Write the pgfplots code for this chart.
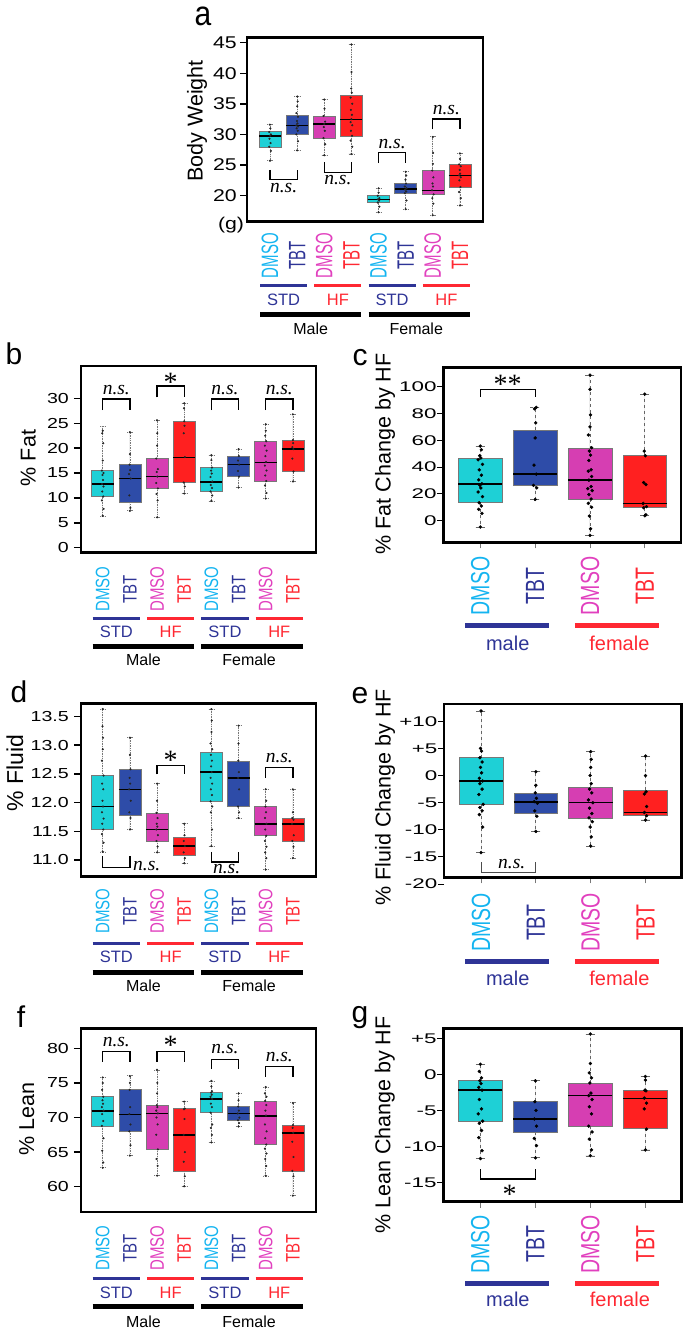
\documentclass[border=0pt]{standalone}
\usepackage{graphicx}
\usepackage{pgfplots}
\pgfplotsset{compat=1.18}
\usepgfplotslibrary{statistics}
\usepackage{fontspec}
\setmainfont{Liberation Sans}
\newfontfamily\nsfont{Liberation Serif}

\definecolor{cyanB}{RGB}{30,208,214}
\definecolor{blueB}{RGB}{46,76,168}
\definecolor{magB}{RGB}{214,62,178}
\definecolor{redB}{RGB}{255,32,32}
\definecolor{cyanT}{RGB}{20,180,240}
\definecolor{blueT}{RGB}{46,52,150}
\definecolor{magT}{RGB}{225,64,190}
\definecolor{redT}{RGB}{255,40,50}
\definecolor{boxgray}{RGB}{120,120,120}

\newcommand{\tlA}[1]{\scalebox{1.25}[1]{#1}}
\newcommand{\tlL}[1]{\scalebox{1.35}[1]{#1}}
\newcommand{\tlR}[1]{\scalebox{1.6}[1]{#1}}
\newcommand{\cA}[2]{\textcolor{#1}{\scalebox{1}[1.58]{#2}}}
\newcommand{\cL}[2]{\textcolor{#1}{\scalebox{1}[1.3]{#2}}}
\newcommand{\cR}[2]{\textcolor{#1}{\scalebox{1}[1.35]{#2}}}

\newcommand{\bp}[7]{\addplot[fill=#7, draw=boxgray, line width=0.6pt,
  boxplot prepared={draw position=#1, lower whisker=#2, lower quartile=#3,
  median=#4, upper quartile=#5, upper whisker=#6}] coordinates {};}
\newcommand{\br}[4]{\draw[line width=1.3pt] (axis cs:#1,#3) -- (axis cs:#1,#4) -- (axis cs:#2,#4) -- (axis cs:#2,#3);}

\tikzset{
  ns/.style={font=\nsfont\itshape\fontsize{19.5}{19.5}\selectfont},
  star/.style={font=\nsfont\fontsize{28}{28}\selectfont, yshift=-4pt},
}

\pgfplotsset{
  common/.style={scale only axis, clip=false, axis line style={line width=2.5pt},
    tick align=outside, tick pos=left,
    boxplot/draw direction=y,
    boxplot/every median/.style={black, line width=1.6pt},
    ylabel style={font=\fontsize{21.5}{21.5}\selectfont, anchor=center},
  },
  leftp/.style={common, width=235pt, xmin=0.2, xmax=8.85, major tick length=7pt,
    xtick={1,...,8}, xtick style={draw=none}, ytick style={black, line width=1.4pt},
    yticklabel style={font=\fontsize{14.5}{14.5}\selectfont, inner xsep=5pt},
    xticklabels={\cL{cyanT}{DMSO},\cL{blueT}{TBT},\cL{magT}{DMSO},\cL{redT}{TBT},\cL{cyanT}{DMSO},\cL{blueT}{TBT},\cL{magT}{DMSO},\cL{redT}{TBT}},
    boxplot/box extend=0.81, boxplot/whisker extend=0.2,
    boxplot/every whisker/.style={densely dotted, boxgray, line width=0.7pt},
  },
  rightp/.style={common, width=237.7pt, xmin=0.325, xmax=4.66, major tick length=6pt,
    xtick={1,2,3,4}, xtick style={boxgray, line width=0.8pt}, ytick style={black, line width=0.9pt},
    yticklabel style={font=\fontsize{14}{14}\selectfont, inner xsep=0.5pt},
    xticklabels={\cR{cyanT}{DMSO},\cR{blueT}{TBT},\cR{magT}{DMSO},\cR{redT}{TBT}},
    boxplot/box extend=0.8, boxplot/whisker extend=0.17,
    boxplot/every whisker/.style={dashed, black!60, line width=0.8pt},
  },
  dotL/.style={only marks, mark=*, mark size=0.85pt, black!85},
  dotR/.style={only marks, mark=*, mark size=1.5pt, black},
}

\newcommand{\leftdeco}[6]{%
  \begin{scope}[x=1pt,y=1pt]
  \foreach \k/\lc/\lab in {0/blueT/STD,2/redT/HF,4/blueT/STD,6/redT/HF}{%
    \draw[\lc, line width=2.8pt] ({#1+\k*#2-10},-#3) -- ({#1+(\k+1)*#2+10},-#3);
    \node[text=\lc, font=\fontsize{16.5}{16.5}\selectfont] at ({#1+(\k+0.5)*#2},-#4) {\lab};
  }
  \draw[black, line width=5pt] ({#1-10},-#5) -- ({#1+3*#2+10},-#5);
  \draw[black, line width=5pt] ({#1+4*#2-10},-#5) -- ({#1+7*#2+10},-#5);
  \node[font=\fontsize{16}{16}\selectfont] at ({#1+1.5*#2},-#6) {Male};
  \node[font=\fontsize{16}{16}\selectfont] at ({#1+5.5*#2-3},-#6) {Female};
  \end{scope}
}
\newcommand{\rightdeco}[4]{%
  \begin{scope}[x=1pt,y=1pt]
  \draw[blueT, line width=5pt] ({#1-15},-#3) -- ({#1+#2+14},-#3);
  \draw[redT, line width=5pt] ({#1+2*#2-15},-#3) -- ({#1+3*#2+14},-#3);
  \node[text=blueT, font=\fontsize{20}{20}\selectfont] at ({#1+0.5*#2},-#4) {male};
  \node[text=redT, font=\fontsize{20}{20}\selectfont] at ({#1+2.5*#2+2},-#4) {female};
  \end{scope}
}
\newcommand{\plab}[3]{\node[inner sep=0pt, font=\fontsize{30}{30}\selectfont] at (#1pt,-#2pt) {#3};}

\begin{document}
\begin{tikzpicture}
\useasboundingbox (0pt,0pt) rectangle (693pt,-1338pt);

% ---------------- panel a
\begin{axis}[leftp, at={(247pt,-221.7pt)}, anchor=south west, width=236pt, height=184pt,
  xmin=0.15, xmax=8.85, ymin=15.75, ymax=45.8,
  ytick={20,25,30,35,40,45}, yticklabels={\tlA{20},\tlA{25},\tlA{30},\tlA{35},\tlA{40},\tlA{45}},
  yticklabel style={font=\fontsize{17}{17}\selectfont, inner xsep=3pt},
  xticklabels={\cA{cyanT}{DMSO},\cA{blueT}{TBT},\cA{magT}{DMSO},\cA{redT}{TBT},\cA{cyanT}{DMSO},\cA{blueT}{TBT},\cA{magT}{DMSO},\cA{redT}{TBT}},
  xticklabel style={font=\fontsize{15}{15}\selectfont, yshift=-26.9pt, rotate=90, anchor=center},
  ylabel={Body Weight}, ylabel style={at={(rel axis cs:-0.212,0.547)}}]
\bp{1}{25.72}{27.9}{29.76}{30.46}{31.66}{cyanB}
\bp{2}{27.35}{30.02}{31.44}{33.18}{36.18}{blueB}
\bp{3}{26.59}{29.37}{31.71}{33.02}{35.74}{magB}
\bp{4}{26.81}{29.75}{32.47}{36.39}{44.73}{redB}
\bp{5}{17.28}{18.86}{19.4}{20.0}{21.2}{cyanB}
\bp{6}{17.77}{20.38}{21.09}{22.02}{23.92}{blueB}
\bp{7}{16.84}{20.22}{20.87}{24.08}{29.64}{magB}
\bp{8}{18.37}{21.42}{23.27}{25.12}{26.92}{redB}
\addplot[dotL] coordinates {
(1,25.7)(1.03,27.3)(0.97,28.0)(1.02,28.6)(0.98,29.3)(1,29.8)(1.03,30.0)(0.97,30.4)(1.01,31.0)(0.99,31.6)
(2,27.4)(2.03,28.9)(1.97,30.0)(2.02,30.6)(1.98,31.0)(2.03,31.3)(1.97,31.5)(2.01,31.8)(1.99,32.2)(2.03,32.9)(1.97,33.5)(2,34.6)(2.02,35.4)(2,36.2)
(3,26.6)(3.03,28.4)(2.97,29.4)(3.02,30.6)(2.98,31.2)(3,31.7)(3.03,32.1)(2.97,33.0)(3.01,34.2)(3,35.7)
(4,26.8)(4.03,28.0)(3.97,29.0)(4.02,29.8)(3.98,30.6)(4.03,31.5)(3.97,32.0)(4,32.5)(4.02,33.2)(3.98,34.0)(4.03,35.0)(3.97,36.0)(4.01,36.8)(3.99,37.5)(4,40.2)(4,44.7)
(5,17.3)(5.03,18.2)(4.97,18.9)(5.02,19.2)(4.98,19.4)(5.03,19.6)(4.97,20.0)(5,20.5)(5,21.2)
(6,17.8)(6.03,19.2)(5.97,20.4)(6.02,20.7)(5.98,21.0)(6.03,21.2)(5.97,21.5)(6.01,22.0)(5.99,22.6)(6.02,23.3)(6,23.9)
(7,16.8)(7.02,18.7)(6.98,19.6)(7.03,20.2)(6.97,20.9)(7.01,21.5)(6.99,22.0)(7.02,23.0)(6.98,24.1)(7,25.2)(7.01,27.0)(7,29.6)
(8,18.4)(8.03,19.6)(7.97,20.6)(8.02,21.4)(7.98,22.5)(8.03,23.0)(7.97,23.3)(8.01,23.6)(7.99,24.2)(8.03,24.8)(7.97,25.1)(8,26.0)(8,26.9)};
\br{1}{2}{24.2}{22.67}\node[ns] at (axis cs:1.5,21.3) {n.s.};
\br{3}{4}{25.45}{23.8}\node[ns] at (axis cs:3.5,22.5) {n.s.};
\br{5}{6}{25.3}{27.0}\node[ns] at (axis cs:5.5,28.5) {n.s.};
\br{7}{8}{30.84}{32.5}\node[ns] at (axis cs:7.5,34.0) {n.s.};
\end{axis}
\node[font=\fontsize{17}{17}\selectfont] at (231pt,-225pt) {\tlA{(g)}};
\leftdeco{270.06}{27.126}{285.7}{300}{314.2}{328.3}
\plab{203}{16}{\scalebox{1}[1.15]{a}}

% ---------------- panel b
\begin{axis}[leftp, at={(81pt,-552.3pt)}, anchor=south west, height=186.3pt,
  ymin=-0.92, ymax=36.5,
  ytick={0,5,10,15,20,25,30}, yticklabels={\tlL{0},\tlL{5},\tlL{10},\tlL{15},\tlL{20},\tlL{25},\tlL{30}},
  xticklabel style={font=\fontsize{15}{15}\selectfont, yshift=-29.7pt, rotate=90, anchor=center},
  ylabel={\% Fat}, ylabel style={at={(rel axis cs:-0.224,0.506)}}]
\bp{1}{6.36}{10.25}{12.79}{15.47}{24.3}{cyanB}
\bp{2}{7.43}{9.11}{13.93}{16.74}{23.17}{blueB}
\bp{3}{6.1}{11.92}{14.33}{17.88}{25.65}{magB}
\bp{4}{10.92}{13.06}{18.15}{25.38}{29.0}{redB}
\bp{5}{9.38}{11.25}{13.26}{16.14}{18.62}{cyanB}
\bp{6}{12.06}{14.27}{16.74}{18.42}{19.76}{blueB}
\bp{7}{9.91}{13.4}{17.15}{21.43}{24.78}{magB}
\bp{8}{13.26}{15.27}{19.83}{21.63}{26.79}{redB}
\addplot[dotL] coordinates {
(1,6.4)(1.03,7.8)(0.97,9.5)(1.02,10.3)(0.98,11.3)(1.03,12.3)(0.97,12.8)(1.01,13.6)(0.99,14.6)(1.03,15.0)(0.97,15.5)(1,17.5)(1.02,21.0)(0.98,23.0)(1,23.5)
(2,7.4)(2.02,8.0)(1.98,10.5)(2.03,13.9)(1.97,14.8)(2.01,15.6)(1.99,16.7)(2,18.8)(2,23.2)
(3,6.1)(3.02,9.5)(2.98,10.8)(3.03,11.9)(2.97,13.0)(3.01,14.3)(2.99,15.2)(3.03,15.8)(2.97,17.9)(3,20.5)(3.01,23.0)(3,25.6)
(4,10.9)(4.02,12.3)(3.98,13.1)(4.02,18.2)(3.98,23.0)(4.01,24.5)(4,25.4)(3.99,28.0)(4,29.0)
(5,9.4)(5.03,10.5)(4.97,11.3)(5.02,12.0)(4.98,12.6)(5.03,13.3)(4.97,14.2)(5.01,14.9)(4.99,15.5)(5.02,16.1)(5,17.6)(5,18.6)
(6,12.1)(6.02,14.3)(5.98,15.4)(6.02,16.7)(5.98,17.5)(6.01,18.4)(6,19.8)
(7,9.9)(7.03,11.0)(6.97,12.5)(7.02,13.4)(6.98,14.5)(7.03,15.5)(6.97,16.5)(7.01,17.2)(6.99,18.4)(7.03,19.5)(6.97,20.5)(7.02,21.4)(6.98,22.5)(7,23.5)(7,24.8)
(8,13.3)(8.02,15.3)(7.98,17.9)(8.02,19.8)(7.98,20.2)(8.01,21.0)(8,21.6)(8,26.8)};
\br{1}{2}{27.65}{29.86}\node[ns] at (axis cs:1.5,31.7) {n.s.};
\br{3}{4}{30.2}{32.47}\node[star] at (axis cs:3.5,34.0) {*};
\br{5}{6}{27.65}{29.86}\node[ns] at (axis cs:5.5,31.7) {n.s.};
\br{7}{8}{27.65}{29.86}\node[ns] at (axis cs:7.5,31.7) {n.s.};
\end{axis}
\leftdeco{102.7}{27.168}{618.3}{632.3}{646.7}{660}
\plab{14}{354}{b}

% ---------------- panel c
\begin{axis}[rightp, at={(443.3pt,-542.3pt)}, anchor=south west, height=175pt,
  ymin=-16.1, ymax=114.5,
  ytick={0,20,40,60,80,100}, yticklabels={\tlR{0},\tlR{20},\tlR{40},\tlR{60},\tlR{80},\tlR{100}},
  xticklabel style={font=\fontsize{19.5}{19.5}\selectfont, yshift=-37.7pt, rotate=90, anchor=center},
  ylabel={\% Fat Change by HF}, ylabel style={at={(rel axis cs:-0.245,0.505)}}]
\bp{1}{-4.7}{13.4}{27.6}{46.8}{55.7}{cyanB}
\bp{2}{15.9}{26.4}{34.8}{67.4}{84.6}{blueB}
\bp{3}{-10.9}{16.2}{30.3}{53.7}{108.7}{magB}
\bp{4}{3.7}{9.7}{12.9}{48.5}{94.5}{redB}
\addplot[dotR] coordinates {
(1,-4.7)(1.03,5.5)(0.97,8.5)(1.02,11)(0.98,13.4)(1.04,18)(0.96,21.5)(1.01,24.5)(0.99,26.5)(1.03,27.6)(0.97,30.5)(1.02,34)(0.98,38)(1.04,42)(0.96,45.5)(1.01,46.8)(0.99,48.5)(1.02,53)(1,55.7)
(2,15.9)(2.03,24.5)(1.97,26.4)(2.02,34.8)(1.98,41.5)(2,61.8)(2.01,73)(1.99,83.5)(2.02,84.6)
(3,-10.9)(3.01,-6)(2.99,3.5)(3.03,10)(2.97,13)(3.02,16.2)(2.98,19.5)(3.04,22.5)(2.96,24)(3.02,25.5)(2.98,30.3)(3.03,33)(2.97,37)(3.02,38)(2.98,45)(3.01,49)(2.99,52)(3.03,54.5)(2.97,64)(3,70)(3.01,79)(3,98)(3,108.7)
(4,3.7)(4.02,4.5)(3.98,9.7)(4.03,10.5)(3.97,12.9)(4.02,27)(3.98,28.5)(4.01,48.5)(3.99,52)(4,94.5)};
\br{1}{2}{92.5}{98}\node[star] at (axis cs:1.5,105) {**};
\end{axis}
\rightdeco{480.3}{54.83}{625}{643.3}
\plab{360}{357.5}{c}

% ---------------- panel d
\begin{axis}[leftp, at={(81pt,-876.5pt)}, anchor=south west, height=173.2pt,
  ymin=10.71, ymax=13.73,
  ytick={11,11.5,12,12.5,13,13.5}, yticklabels={\tlL{11.0},\tlL{11.5},\tlL{12.0},\tlL{12.5},\tlL{13.0},\tlL{13.5}},
  xticklabel style={font=\fontsize{15}{15}\selectfont, yshift=-27.8pt, rotate=90, anchor=center},
  ylabel={\% Fluid}, ylabel style={font=\fontsize{23}{23}\selectfont, at={(rel axis cs:-0.281,0.598)}}]
\bp{1}{11.14}{11.53}{11.93}{12.47}{13.63}{cyanB}
\bp{2}{11.53}{11.77}{12.23}{12.58}{13.13}{blueB}
\bp{3}{11.13}{11.325}{11.53}{11.82}{12.33}{magB}
\bp{4}{10.94}{11.08}{11.24}{11.385}{11.63}{redB}
\bp{5}{11.24}{12.02}{12.53}{12.88}{13.63}{cyanB}
\bp{6}{11.73}{11.93}{12.43}{12.72}{13.34}{blueB}
\bp{7}{10.83}{11.42}{11.63}{11.93}{12.23}{magB}
\bp{8}{11.03}{11.325}{11.63}{11.73}{12.23}{redB}
\addplot[dotL] coordinates {
(1,11.14)(1.03,11.3)(0.97,11.45)(1.02,11.53)(0.98,11.63)(1.03,11.72)(0.97,11.83)(1.01,11.93)(0.99,12.03)(1.02,12.23)(0.98,12.33)(1.03,12.47)(0.97,12.73)(1,12.93)(1.01,13.13)(0.99,13.33)(1,13.63)
(2,11.53)(2.02,11.73)(1.98,11.83)(2.03,12.03)(1.97,12.23)(2.01,12.33)(1.99,12.43)(2.02,12.58)(2,12.83)(2,13.13)
(3,11.13)(3.02,11.23)(2.98,11.33)(3.03,11.43)(2.97,11.53)(3.01,11.58)(2.99,11.63)(3.02,11.73)(2.98,11.82)(3,12.03)(3,12.33)
(4,10.94)(4.02,11.03)(3.98,11.13)(4.02,11.24)(3.98,11.33)(4.01,11.43)(4,11.63)
(5,11.24)(5.02,11.53)(4.98,11.83)(5.03,11.93)(4.97,12.02)(5.02,12.13)(4.98,12.23)(5.03,12.33)(4.97,12.43)(5.01,12.53)(4.99,12.63)(5.02,12.73)(4.98,12.83)(5.03,12.93)(4.97,13.03)(5,13.23)(5.01,13.43)(5,13.63)
(6,11.73)(6.02,11.83)(5.98,11.93)(6.02,12.23)(5.98,12.43)(6.01,12.53)(5.99,12.73)(6,13.03)(6,13.34)
(7,10.83)(7.02,11.03)(6.98,11.13)(7.03,11.23)(6.97,11.33)(7.02,11.42)(6.98,11.53)(7.03,11.63)(6.97,11.73)(7.01,11.83)(6.99,11.93)(7.02,12.03)(7,12.23)
(8,11.03)(8.02,11.23)(7.98,11.33)(8.03,11.43)(7.97,11.63)(8.02,11.7)(7.98,11.73)(8,11.83)(8,12.23)};
\br{1}{2}{11.06}{10.87}\node[ns] at (axis cs:2.62,10.90) {n.s.};
\br{3}{4}{12.49}{12.65}\node[star] at (axis cs:3.5,12.80) {*};
\br{5}{6}{11.14}{10.965}\node[ns] at (axis cs:5.56,10.84) {n.s.};
\br{7}{8}{12.43}{12.61}\node[ns] at (axis cs:7.5,12.78) {n.s.};
\end{axis}
\leftdeco{102.7}{27.168}{943.3}{956.7}{972.5}{986}
\plab{19}{692}{d}

% ---------------- panel e
\begin{axis}[rightp, at={(444pt,-877.3pt)}, anchor=south west, height=173.3pt,
  ymin=-18.76, ymax=13.19,
  ytick={-15,-10,-5,0,5,10}, yticklabels={\tlR{-15},\tlR{-10},\tlR{-5},\tlR{0},\tlR{+5},\tlR{+10}},
  xticklabel style={font=\fontsize{19.5}{19.5}\selectfont, yshift=-39.2pt, rotate=90, anchor=center},
  ylabel={\% Fluid Change by HF}, ylabel style={at={(rel axis cs:-0.248,0.463)}}]
\bp{1}{-14.2}{-5.3}{-1.0}{3.3}{11.9}{cyanB}
\bp{2}{-10.34}{-7.03}{-4.87}{-3.34}{0.72}{blueB}
\bp{3}{-12.99}{-7.82}{-5.0}{-2.17}{4.4}{magB}
\bp{4}{-8.19}{-7.39}{-6.84}{-2.72}{3.6}{redB}
\addplot[dotR] coordinates {
(1,-14.2)(1.03,-9.5)(0.97,-7.2)(1.02,-6.5)(0.98,-5.9)(1.04,-5.3)(0.96,-3.5)(1.02,-2.5)(0.98,-1.5)(1.03,-1.0)(0.97,-0.5)(1.01,0.5)(0.99,1.5)(1.02,2.5)(0.98,3.3)(1.01,4.5)(0.99,5.0)(1,11.9)
(2,-10.3)(2.02,-7.5)(1.98,-6.5)(2.03,-5.1)(1.97,-4.8)(2.01,-4.2)(1.99,-3.2)(2,-1.8)(2,0.7)
(3,-13.0)(3.01,-11.3)(2.99,-9.5)(3.03,-8.5)(2.97,-7.8)(3.02,-7.0)(2.98,-6.0)(3.04,-5.0)(2.96,-4.5)(3.02,-3.2)(2.98,-2.5)(3.01,-1.5)(2.99,0.0)(3,1.5)(3.01,3.0)(3,4.4)
(4,-8.2)(4.02,-7.4)(3.98,-6.8)(4.02,-5.7)(3.98,-3.4)(4.01,-3.0)(4,0.0)(4,3.6)};
\draw[line width=0.8pt, black!70] (axis cs:1,-16.0) -- (axis cs:1,-17.84) -- (axis cs:2,-17.84) -- (axis cs:2,-16.0);
\node[ns] at (axis cs:1.56,-16.3) {n.s.};
\draw[line width=0.9pt] (axis cs:0.325,-20) -- (axis cs:0.215,-20);
\node[anchor=east, inner xsep=0.5pt, font=\fontsize{14}{14}\selectfont] at (axis cs:0.215,-20) {\tlR{-20}};
\end{axis}
\rightdeco{480.3}{54.83}{961}{978.3}
\plab{360}{695.5}{e}

% ---------------- panel f
\begin{axis}[leftp, at={(81pt,-1212pt)}, anchor=south west, height=183.7pt,
  ymin=56.34, ymax=82.9,
  ytick={60,65,70,75,80}, yticklabels={\tlL{60},\tlL{65},\tlL{70},\tlL{75},\tlL{80}},
  xticklabel style={font=\fontsize{15}{15}\selectfont, yshift=-29.3pt, rotate=90, anchor=center},
  ylabel={\% Lean}, ylabel style={at={(rel axis cs:-0.231,0.507)}}]
\bp{1}{62.75}{68.77}{70.98}{73.0}{75.81}{cyanB}
\bp{2}{64.48}{68.05}{70.46}{74.07}{76.04}{blueB}
\bp{3}{61.59}{65.4}{70.6}{71.76}{76.86}{magB}
\bp{4}{60.05}{62.27}{67.51}{71.33}{72.34}{redB}
\bp{5}{66.36}{70.7}{72.67}{73.64}{75.27}{cyanB}
\bp{6}{68.73}{69.64}{70.6}{71.56}{73.5}{blueB}
\bp{7}{61.55}{66.12}{70.26}{72.38}{74.36}{magB}
\bp{8}{58.7}{62.27}{67.8}{68.92}{72.14}{redB}
\addplot[dotL] coordinates {
(1,62.75)(1.02,63.5)(0.98,65.2)(1.03,67.0)(0.97,68.8)(1.02,69.5)(0.98,70.5)(1.03,71.0)(0.97,71.5)(1.01,72.0)(0.99,72.5)(1.02,73.0)(0.98,74.0)(1,75.0)(1,75.8)
(2,64.5)(2.02,66.0)(1.98,68.0)(2.02,69.0)(1.98,70.5)(2.01,71.5)(1.99,74.0)(2,75.0)(2,76.0)
(3,61.6)(3.02,63.0)(2.98,64.0)(3.03,65.4)(2.97,67.5)(3.02,69.0)(2.98,70.0)(3.03,70.6)(2.97,71.0)(3.01,71.5)(2.99,71.8)(3,73.5)(3.01,75.0)(3,76.9)
(4,60.05)(4.02,61.5)(3.98,63.6)(4.02,65.0)(3.98,67.5)(4.01,69.8)(3.99,71.2)(4.02,71.3)(4,72.3)
(5,66.4)(5.02,67.5)(4.98,68.5)(5.03,69.0)(4.97,70.7)(5.02,71.5)(4.98,72.0)(5.03,72.7)(4.97,73.0)(5.01,73.3)(4.99,73.6)(5.02,73.8)(5,74.5)(5,75.3)
(6,68.7)(6.02,69.2)(5.98,69.6)(6.03,70.0)(5.97,70.6)(6.01,71.0)(5.99,71.6)(6,72.5)(6,73.5)
(7,61.6)(7.02,63.0)(6.98,64.0)(7.03,64.8)(6.97,65.5)(7.02,66.1)(6.98,67.0)(7.03,68.0)(6.97,69.0)(7.01,70.3)(6.99,71.0)(7.02,71.8)(6.98,72.4)(7.03,73.0)(6.97,73.5)(7,74.4)
(8,58.7)(8.02,61.5)(7.98,62.3)(8.02,64.3)(7.98,66.5)(8.01,67.8)(7.99,68.5)(8,68.9)(8,72.1)};
\br{1}{2}{78.06}{79.5}\node[ns] at (axis cs:1.5,80.95) {n.s.};
\br{3}{4}{78.1}{79.5}\node[star] at (axis cs:3.5,81.0) {*};
\br{5}{6}{77.0}{78.4}\node[ns] at (axis cs:5.5,79.86) {n.s.};
\br{7}{8}{75.9}{77.34}\node[ns] at (axis cs:7.5,78.8) {n.s.};
\end{axis}
\leftdeco{102.7}{27.168}{1278.3}{1293.3}{1306.7}{1321.7}
\plab{21}{1016.7}{f}

% ---------------- panel g
\begin{axis}[rightp, at={(443.3pt,-1201.7pt)}, anchor=south west, width=238.4pt, height=173.4pt,
  ymin=-17.69, ymax=6.39,
  ytick={-15,-10,-5,0,5}, yticklabels={\tlR{-15},\tlR{-10},\tlR{-5},\tlR{0},\tlR{+5}},
  xticklabel style={font=\fontsize{19.5}{19.5}\selectfont, yshift=-36.5pt, rotate=90, anchor=center},
  ylabel={\% Lean Change by HF}, ylabel style={at={(rel axis cs:-0.245,0.442)}}]
\bp{1}{-11.67}{-6.48}{-2.18}{-0.79}{1.39}{cyanB}
\bp{2}{-11.57}{-8.06}{-6.2}{-3.75}{-0.88}{blueB}
\bp{3}{-11.34}{-7.18}{-2.96}{-1.2}{5.56}{magB}
\bp{4}{-10.5}{-7.5}{-3.33}{-2.27}{-0.32}{redB}
\addplot[dotR] coordinates {
(1,-11.7)(1.03,-10.6)(0.97,-8.8)(1.02,-7.8)(0.98,-6.8)(1.04,-6.5)(0.96,-5.5)(1.02,-4.8)(0.98,-3.5)(1.03,-2.2)(0.97,-1.8)(1.01,-1.3)(0.99,-0.9)(1.02,-0.5)(0.98,0.4)(1,1.4)
(2,-11.6)(2.02,-9.9)(1.98,-8.9)(2.02,-7.2)(1.98,-6.2)(2.01,-5.0)(1.99,-3.8)(2,-0.9)
(3,-11.3)(3.02,-10.5)(2.98,-9.0)(3.03,-8.0)(2.97,-7.2)(3.02,-5.5)(2.98,-4.5)(3.03,-3.5)(2.97,-2.96)(3.01,-2.6)(2.99,-1.2)(3.02,-0.5)(2.98,0.2)(3,1.5)(3,5.6)
(4,-10.5)(4.02,-7.6)(3.98,-4.8)(4.02,-4.0)(3.98,-3.3)(4.01,-2.3)(3.99,-2.2)(4,-0.8)(4,-0.3)};
\br{1}{2}{-13.2}{-14.54}\node[star] at (axis cs:1.53,-16.16) {*};
\end{axis}
\rightdeco{480.4}{55}{1283.3}{1299.3}
\plab{360}{1018}{g}
\end{tikzpicture}
\end{document}
